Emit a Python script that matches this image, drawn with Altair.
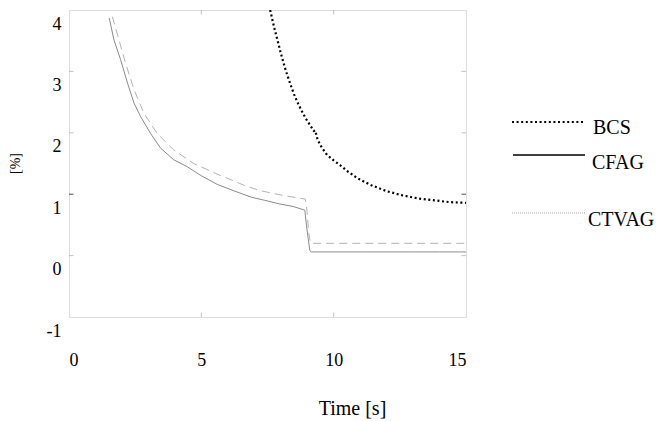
import altair as alt
import pandas as pd

# ---- data ----
bcs_t = [7.6, 7.75, 7.9, 8.05, 8.2, 8.35, 8.5, 8.65, 8.8, 8.95, 9.1, 9.25, 9.3, 9.4,
         9.55, 9.75, 10.0, 10.25, 10.5, 10.9, 11.4, 12.0, 12.6, 13.2, 13.8, 14.4, 15.0]
bcs_v = [4.0, 3.72, 3.47, 3.22, 3.0, 2.81, 2.63, 2.48, 2.35, 2.23, 2.13, 2.03, 2.04, 1.88,
         1.76, 1.64, 1.55, 1.47, 1.38, 1.26, 1.15, 1.05, 0.98, 0.93, 0.9, 0.87, 0.86]

cfag_t = [1.52, 1.7, 1.95, 2.21, 2.46, 2.71, 3.08, 3.46, 3.96, 4.46, 5.0, 5.6, 6.2,
          6.9, 7.4, 7.97, 8.47, 8.91, 8.97, 9.03, 9.1, 9.15, 10.0, 11.0, 12.0, 13.0, 14.0, 15.0]
cfag_v = [3.87, 3.51, 3.19, 2.81, 2.48, 2.26, 1.99, 1.75, 1.56, 1.45, 1.3, 1.16, 1.06,
          0.95, 0.9, 0.84, 0.8, 0.74, 0.5, 0.3, 0.08, 0.06, 0.06, 0.06, 0.06, 0.06, 0.06, 0.06]

ctvag_t = [1.64, 1.89, 2.14, 2.46, 2.83, 3.33, 3.96, 4.71, 5.59, 6.59, 7.2, 7.97, 8.5,
           8.93, 9.0, 9.05, 9.12, 9.2, 10.0, 11.0, 12.0, 13.0, 14.0, 15.0]
ctvag_v = [3.89, 3.51, 3.13, 2.7, 2.32, 1.99, 1.72, 1.5, 1.33, 1.15, 1.06, 0.99, 0.95,
           0.92, 0.7, 0.4, 0.21, 0.2, 0.2, 0.2, 0.2, 0.2, 0.2, 0.2]

legend_names = ["BCS", "CFAG", "CTVAG"]
x_ticks = [0, 5, 10, 15]
y_ticks = [-1, 0, 1, 2, 3, 4]

FONT = "Liberation Serif"

x_scale = alt.Scale(domain=[0, 15], nice=False, zero=False)
y_scale = alt.Scale(domain=[-1, 4], nice=False, zero=False)

x_axis = alt.Axis(values=x_ticks, title="Time [s]", grid=False, domain=False, ticks=False,
                  tickSize=0, labelPadding=43, labelBaseline="middle", labelFontSize=18,
                  labelFont=FONT, labelColor="black", labelExpr="'' + datum.value",
                  titleFont=FONT, titleFontSize=20,
                  titleFontWeight="normal", titleColor="black", titleX=283, titleY=91,
                  titleBaseline="middle", titleAlign="center")
y_axis = alt.Axis(values=y_ticks, title="[%]", grid=False, domain=False, ticks=False,
                  tickSize=0, labelPadding=8, labelOffset=14, labelBaseline="middle",
                  labelFontSize=18, labelFont=FONT, labelColor="black",
                  labelExpr="'' + datum.value", titleFont=FONT,
                  titleFontSize=14, titleFontWeight="normal", titleColor="black",
                  titleX=-47, titleY=153, titleAngle=-90)


def series(t, v):
    return pd.DataFrame({"t": t, "v": v})


bcs = alt.Chart(series(bcs_t, bcs_v)).mark_line(
    color="black", strokeWidth=2.2, strokeDash=[2, 2.6], strokeCap="butt", clip=True
).encode(x=alt.X("t:Q", scale=x_scale, axis=x_axis), y=alt.Y("v:Q", scale=y_scale, axis=y_axis))

cfag = alt.Chart(series(cfag_t, cfag_v)).mark_line(
    color="#8c8c8c", strokeWidth=1, clip=True
).encode(x=alt.X("t:Q", scale=x_scale), y=alt.Y("v:Q", scale=y_scale))

ctvag = alt.Chart(series(ctvag_t, ctvag_v)).mark_line(
    color="#b4b4b4", strokeWidth=1, strokeDash=[8, 5], clip=True
).encode(x=alt.X("t:Q", scale=x_scale), y=alt.Y("v:Q", scale=y_scale))

# inward tick marks on all four sides (outer half clipped away)
xt = pd.DataFrame({"t": x_ticks[1:-1]})
yt = pd.DataFrame({"v": y_ticks[1:-1]})
tick_color = alt.condition("datum.v == 1", alt.value("black"), alt.value("#aaaaaa"))
x_ticks_bottom = alt.Chart(xt).mark_tick(orient="vertical", size=9, thickness=1, clip=True,
                                         color="#aaaaaa").encode(
    x=alt.X("t:Q", scale=x_scale), y=alt.value(307))
x_ticks_top = alt.Chart(xt).mark_tick(orient="vertical", size=9, thickness=1, clip=True,
                                      color="#aaaaaa").encode(
    x=alt.X("t:Q", scale=x_scale), y=alt.value(0))
y_ticks_left = alt.Chart(yt).mark_tick(orient="horizontal", size=9, thickness=1, clip=True).encode(
    y=alt.Y("v:Q", scale=y_scale), x=alt.value(0), color=tick_color)
y_ticks_right = alt.Chart(yt).mark_tick(orient="horizontal", size=9, thickness=1, clip=True).encode(
    y=alt.Y("v:Q", scale=y_scale), x=alt.value(397), color=tick_color)

# manual legend (outside the plot, on the right)
leg_bcs_line = alt.Chart(pd.DataFrame({"n": [legend_names[0]]})).mark_rule(
    color="black", strokeWidth=2.2, strokeDash=[2, 2.6], strokeCap="butt"
).encode(x=alt.value(443), x2=alt.value(516), y=alt.value(112))
leg_cfag_line = alt.Chart(pd.DataFrame({"n": [legend_names[1]]})).mark_rule(
    color="black", strokeWidth=1.5
).encode(x=alt.value(444), x2=alt.value(516), y=alt.value(145))
leg_ctvag_line = alt.Chart(pd.DataFrame({"n": [legend_names[2]]})).mark_rule(
    color="#b0b0b0", strokeWidth=1, strokeDash=[1, 1]
).encode(x=alt.value(443), x2=alt.value(516), y=alt.value(203))


def leg_text(name, x, y):
    return alt.Chart(pd.DataFrame({"n": [name]})).mark_text(
        align="left", baseline="middle", font=FONT, fontSize=20, color="black"
    ).encode(text="n:N", x=alt.value(x), y=alt.value(y))


legend_layers = [
    leg_bcs_line, leg_cfag_line, leg_ctvag_line,
    leg_text(legend_names[0], 524, 118),
    leg_text(legend_names[1], 523, 153),
    leg_text(legend_names[2], 519, 210),
]

chart = alt.layer(ctvag, cfag, bcs, x_ticks_bottom, x_ticks_top, y_ticks_left, y_ticks_right,
                  *legend_layers).properties(
    width=397, height=307,
    autosize=alt.AutoSizeParams(type="none"),
    padding={"left": 69, "top": 10, "right": 194, "bottom": 104},
).configure_view(stroke="#8a8a8a", strokeWidth=1).configure(background="white")

chart.save("out.html", embed_options={"renderer": "svg", "actions": False})
